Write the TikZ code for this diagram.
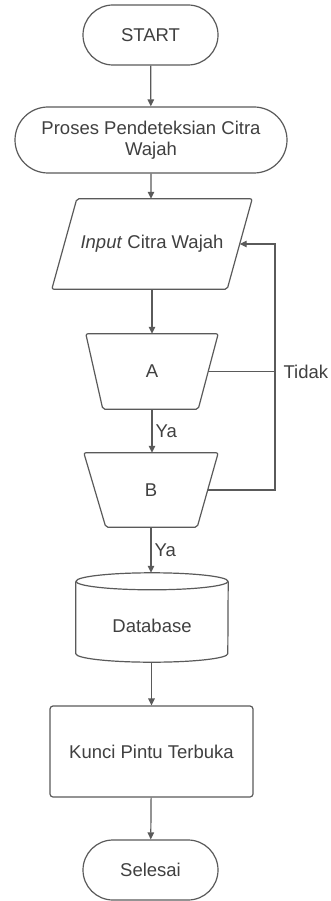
\documentclass[tikz,border=0pt]{standalone}
\usepackage{fontspec}
\setmainfont{Liberation Sans}
\usetikzlibrary{shapes.misc,arrows.meta}
\definecolor{linegray}{HTML}{5A5A5A}
\definecolor{txtgray}{HTML}{404040}
\tikzset{
  base/.style={draw=linegray, line width=1.2pt, text=txtgray, font=\fontsize{18.5}{21}\selectfont, align=center, inner sep=0pt},
  term/.style={base, rounded rectangle},
  hidden/.style={text=txtgray, font=\fontsize{18.5}{21}\selectfont, align=center, inner sep=0pt, rectangle},
  procbox/.style={base, rectangle, rounded corners=3pt},
  conn/.style={draw=linegray, line width=1.2pt, -{Triangle[length=7pt,width=6.5pt]}},
  plain/.style={draw=linegray, line width=1.2pt, line join=round},
  lbl/.style={text=txtgray, font=\fontsize{18.5}{21}\selectfont, inner sep=0pt}
}
\begin{document}
\begin{tikzpicture}[x=1pt,y=-1pt]
\useasboundingbox (0,0) rectangle (331,901);
\fill[white] (0,0) rectangle (331,901);

\node[term, minimum width=135pt, minimum height=60pt] (start) at (150.5,35) {START};
\node[term, minimum width=272pt, minimum height=66pt] (proses) at (151,140) {Proses Pendeteksian Citra\\Wajah};

% input parallelogram
\node[hidden, minimum width=200pt, minimum height=90pt] (in) at (152,244) {\textit{Input} Citra Wajah};
\draw[plain, rounded corners=2pt] ([xshift=25pt]in.north west) -- (in.north east)
  -- ([xshift=-25pt]in.south east) -- (in.south west) -- cycle;
\coordinate (inr) at ([xshift=-12.5pt]in.east);

% decision A
\node[hidden, minimum width=132pt, minimum height=75pt] (A) at (152,371.5) {A};
\draw[plain, rounded corners=2pt] (A.north west) -- (A.north east)
  -- ([xshift=-20pt]A.south east) -- ([xshift=17pt]A.south west) -- cycle;
\coordinate (Ar) at ([xshift=-10pt]A.east);

% decision B
\node[hidden, minimum width=134pt, minimum height=74pt] (B) at (151,490) {B};
\draw[plain, rounded corners=2pt] (B.north west) -- (B.north east)
  -- ([xshift=-21pt]B.south east) -- ([xshift=22pt]B.south west) -- cycle;
\coordinate (Br) at ([xshift=-10.5pt]B.east);

% database cylinder
\node[hidden, minimum width=152pt, minimum height=89pt] (db) at (152,617.5) {};
\node[lbl] (dbtext) at (152,626) {Database};
\draw[plain] ([yshift=-8.5pt]db.north west)
  -- ([yshift=8.5pt]db.south west)
  arc[start angle=180, end angle=360, x radius=76pt, y radius=8.5pt]
  -- ([yshift=-8.5pt]db.north east);
\draw[plain] ([yshift=-8.5pt]db.north) ellipse[x radius=76pt, y radius=8.5pt];

\node[procbox, minimum width=203pt, minimum height=91pt] (kunci) at (151.5,751.5) {Kunci Pintu Terbuka};
\node[term, minimum width=135pt, minimum height=60pt] (end) at (150.5,870) {Selesai};

\coordinate (loop) at (275,0);

\draw[conn] (start) -- (proses);
\draw[conn] (proses) -- (proses.south |- in.north);
\draw[conn] (in.south -| A.north) -- (A.north);
\draw[conn] (A.south) -- node[lbl, anchor=west, xshift=3pt] (ya1) {Ya} (A.south |- B.north);
\draw[conn] (B.south) -- node[lbl, anchor=west, xshift=3pt] (ya2) {Ya} (B.south |- db.north);
\draw[conn] (db.south -| kunci.north) -- (kunci);
\draw[conn] (kunci) -- (end);

\draw[conn] (Br) -- (Br -| loop) -- (inr -| loop) -- (inr);
\draw[plain] (Ar) -- (Ar -| loop) node[lbl, anchor=west, xshift=8pt] (tidak) {Tidak};
\end{tikzpicture}
\end{document}
